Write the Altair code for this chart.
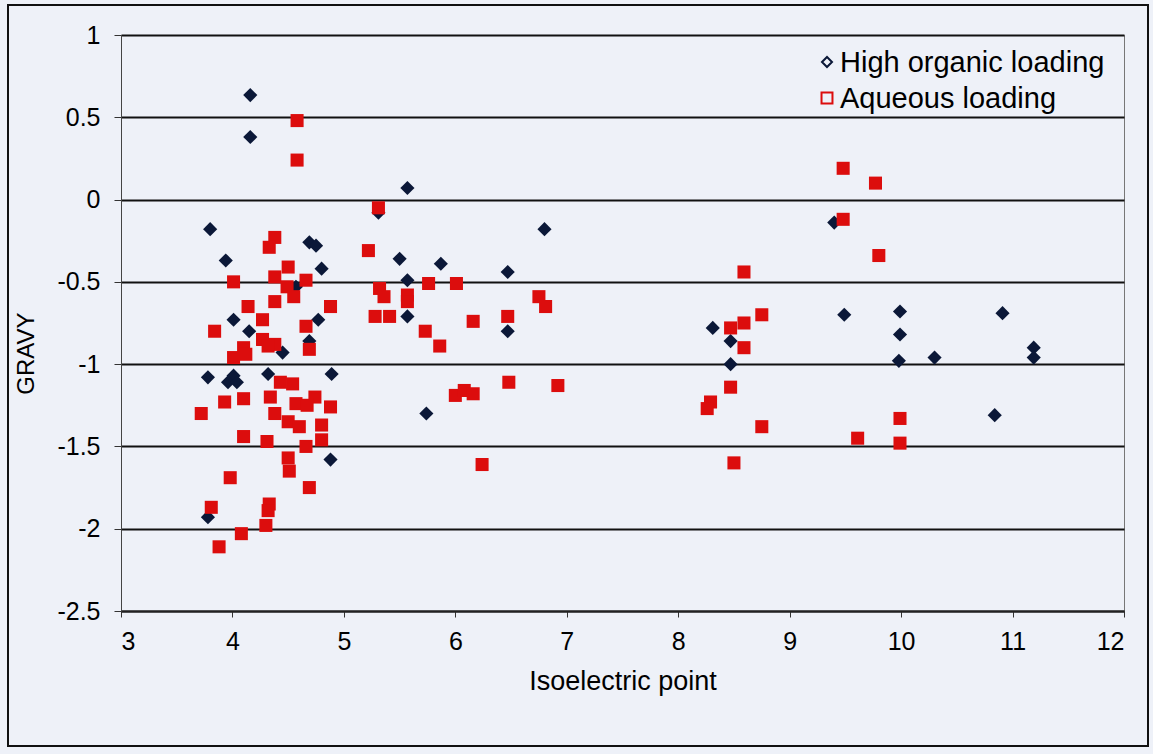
import altair as alt
import pandas as pd

SERIES = ["High organic loading", "Aqueous loading"]
COLORS = ["#0b1838", "#dc0d0d"]
SHAPES = ["diamond", "square"]

# Isoelectric point / GRAVY pairs, high organic loading
organic_pi = [4.16, 4.16, 3.80, 3.94, 4.69, 4.75, 4.80, 4.57, 4.01, 4.77,
              4.15, 4.45, 4.69, 3.78, 4.01, 3.96, 4.04, 4.32, 4.89, 4.88,
              3.78, 5.57, 5.31, 6.80, 5.50, 5.87, 6.47, 5.57, 5.57, 6.47,
              5.74, 8.31, 8.47, 8.47, 9.40, 9.49, 9.99, 9.99, 9.98, 10.30,
              10.91, 11.19, 11.19, 10.84]
organic_gravy = [0.635, 0.38, -0.18, -0.37, -0.26, -0.28, -0.42, -0.53, -0.73, -0.73,
                 -0.80, -0.93, -0.86, -1.08, -1.07, -1.11, -1.11, -1.06, -1.06, -1.58,
                 -1.93, 0.07, -0.08, -0.18, -0.36, -0.39, -0.44, -0.49, -0.71, -0.80,
                 -1.30, -0.78, -0.86, -1.00, -0.14, -0.70, -0.68, -0.82, -0.98, -0.96,
                 -0.69, -0.90, -0.96, -1.31]

# Isoelectric point / GRAVY pairs, aqueous loading
aqueous_pi = [4.58, 4.58, 4.38, 4.33, 4.50, 4.38, 4.01, 4.49, 4.66, 4.55,
              4.14, 4.38, 4.88, 4.27, 4.66, 3.84, 4.27, 4.38, 4.32, 4.69,
              4.10, 4.12, 4.01, 4.43, 4.54, 3.93, 4.10, 4.34, 4.74, 4.57,
              4.67, 4.88, 3.72, 4.38, 4.50, 4.60, 4.80, 4.10, 4.31, 4.80,
              4.66, 4.50, 4.51, 3.98, 4.69, 3.81, 4.33, 4.32, 4.30, 4.08,
              3.88, 5.31, 5.22, 5.32, 5.36, 5.57, 5.57, 5.76, 6.01, 5.28,
              5.41, 6.16, 6.47, 6.75, 6.81, 5.73, 5.86, 6.00, 6.08, 6.16,
              6.48, 6.92, 6.24, 8.59, 8.75, 8.59, 8.47, 8.59, 8.47, 8.29,
              8.26, 8.75, 8.50, 9.48, 9.77, 9.48, 9.80, 9.99, 9.61, 9.99]
aqueous_gravy = [0.48, 0.24, -0.23, -0.29, -0.41, -0.47, -0.50, -0.53, -0.49, -0.59,
                 -0.65, -0.62, -0.65, -0.73, -0.77, -0.80, -0.85, -0.88, -0.89, -0.91,
                 -0.90, -0.94, -0.96, -1.11, -1.12, -1.23, -1.21, -1.20, -1.20, -1.24,
                 -1.25, -1.26, -1.30, -1.30, -1.35, -1.38, -1.37, -1.44, -1.47, -1.46,
                 -1.50, -1.57, -1.65, -1.69, -1.75, -1.87, -1.85, -1.89, -1.98, -2.03,
                 -2.11, -0.05, -0.31, -0.54, -0.59, -0.58, -0.62, -0.51, -0.51, -0.71,
                 -0.71, -0.74, -0.71, -0.59, -0.65, -0.80, -0.89, -1.19, -1.16, -1.18,
                 -1.11, -1.13, -1.61, -0.44, -0.70, -0.75, -0.78, -0.90, -1.14, -1.23,
                 -1.27, -1.38, -1.60, 0.19, 0.10, -0.12, -0.34, -1.33, -1.45, -1.48]

X_TICKS = list(range(3, 13))
Y_TICKS = [1, 0.5, 0, -0.5, -1, -1.5, -2, -2.5]

FONT = "Liberation Sans"
BG = "#eef1f8"

df = pd.concat([
    pd.DataFrame({"pi": organic_pi, "gravy": organic_gravy, "series": SERIES[0]}),
    pd.DataFrame({"pi": aqueous_pi, "gravy": aqueous_gravy, "series": SERIES[1]}),
], ignore_index=True)

x_enc = alt.X(
    "pi:Q",
    scale=alt.Scale(domain=[3, 12], nice=False, zero=False),
    axis=alt.Axis(
        values=X_TICKS, title="Isoelectric point", grid=False,
        labelExpr="'' + datum.value", tickSize=6, labelPadding=12,
        titlePadding=14, titleFontSize=27, domainColor="#222", domainWidth=2,
        tickColor="#333", tickWidth=1,
    ),
)
y_enc = alt.Y(
    "gravy:Q",
    scale=alt.Scale(domain=[-2.5, 1], nice=False, zero=False),
    axis=alt.Axis(
        values=Y_TICKS, title="GRAVY", grid=True, gridColor="#111",
        gridWidth=2, labelExpr="'' + datum.value", tickSize=7,
        labelPadding=14, titlePadding=18, titleFontSize=24, titleY=318,
        domainColor="#444", domainWidth=1, tickColor="#333", tickWidth=1,
    ),
)

points = alt.Chart(df).mark_point(filled=True, opacity=1).encode(
    x=x_enc,
    y=y_enc,
    fill=alt.Fill("series:N", scale=alt.Scale(domain=SERIES, range=COLORS), legend=None),
    shape=alt.Shape("series:N", scale=alt.Scale(domain=SERIES, range=SHAPES), legend=None),
    size=alt.Size("series:N", scale=alt.Scale(domain=SERIES, range=[200, 170]), legend=None),
)

# Hand-placed legend: hollow symbols with labels in the top-right corner
legend_layers = []
for i, (name, color, shape) in enumerate(zip(SERIES, COLORS, SHAPES)):
    row = alt.Chart(pd.DataFrame({"series": [name]}))
    ypos = 27 + 36 * i
    legend_layers.append(
        row.mark_point(shape=shape, filled=False, stroke=color, strokeWidth=2,
                       size=100 if shape == "diamond" else 120, opacity=1)
        .encode(x=alt.value(706), y=alt.value(ypos))
    )
    legend_layers.append(
        row.mark_text(align="left", baseline="middle", font=FONT, fontSize=29, color="#000")
        .encode(x=alt.value(719), y=alt.value(ypos + 1), text="series:N")
    )

# Outer frame around the whole figure
frame = alt.Chart(pd.DataFrame({"k": [0]})).mark_rect(
    fillOpacity=0, stroke="#111", strokeWidth=2
).encode(x=alt.value(-113), x2=alt.value(1027), y=alt.value(-30), y2=alt.value(711))

chart = alt.layer(points, *legend_layers, frame).properties(
    width=1003,
    height=576,
    autosize="none",
    padding={"left": 121, "top": 35, "right": 29, "bottom": 143},
    background=BG,
).configure_view(
    stroke="#777", strokeWidth=1, fill=BG
).configure_axis(
    labelFont=FONT, labelFontSize=25, labelColor="#000",
    titleFont=FONT, titleFontSize=26, titleColor="#000", titleFontWeight="normal",
)

chart.save("out.html", embed_options={"renderer": "svg", "actions": False})
